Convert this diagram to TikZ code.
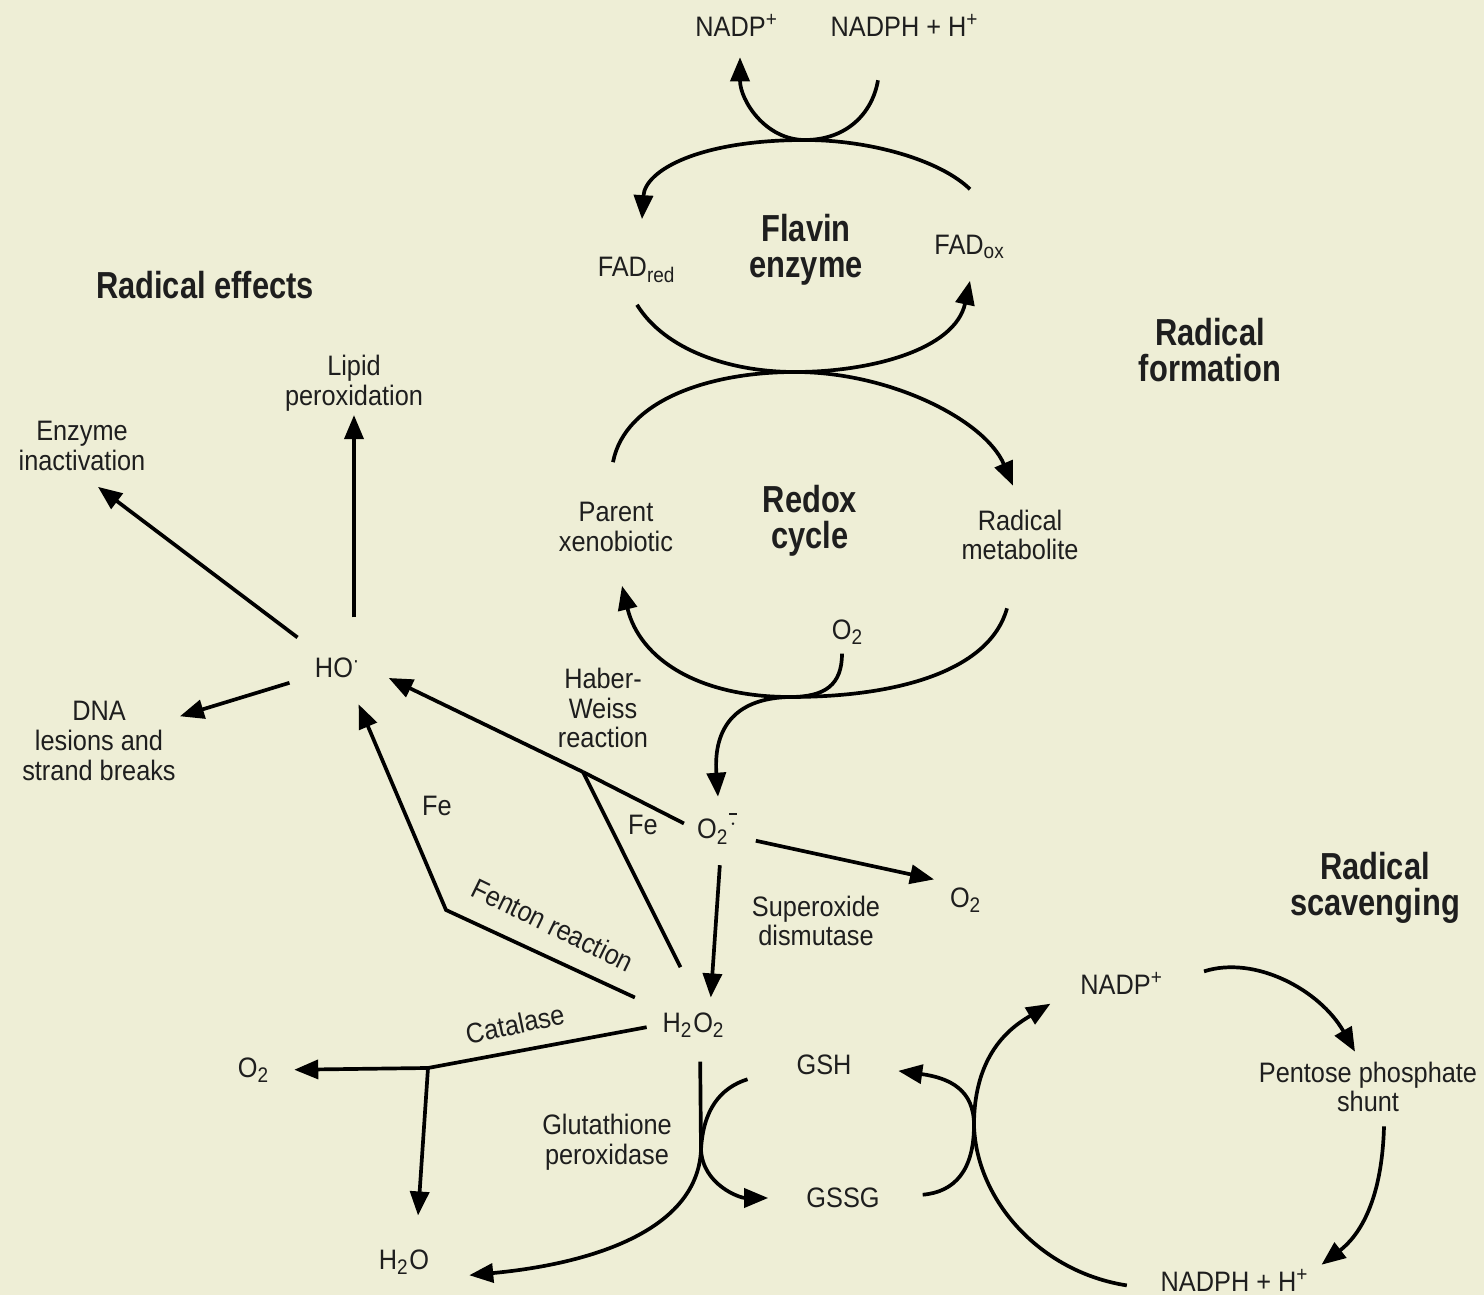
\documentclass[tikz,border=0pt]{standalone}
\usepackage{fontspec}
\setmainfont{Liberation Sans}[FakeStretch=0.9]
\newfontfamily\headfont{Liberation Sans}[FakeStretch=0.82]
\usetikzlibrary{arrows.meta, positioning, calc}

\definecolor{paper}{RGB}{238,238,214}
\definecolor{ink}{RGB}{30,30,30}

\begin{document}
\begin{tikzpicture}[x=0.01cm, y=-0.01cm,
    txt/.style={font=\fontsize{8}{8.4}\selectfont, align=center, text=ink, inner sep=1pt},
    head/.style={font=\headfont\bfseries\fontsize{10.7}{10.3}\selectfont, align=center, text=ink},
    arr/.style={-{Triangle[length=2.4mm, width=1.9mm]}, line width=1.05pt},
    rxn/.style={line width=1.05pt},
]
\useasboundingbox (0,0) rectangle (1484,1295);
\fill[paper] (0,0) rectangle (1484,1295);

% Section titles
\node[head] (TEF) at (205,285) {Radical effects};
\node[head] (TFE) at (806,250) {Flavin\\enzyme};
\node[head] (TRF) at (1210,350) {Radical\\formation};
\node[head] (TRC) at (810,521) {Redox\\cycle};
\node[head] (TRS) at (1375,888) {Radical\\scavenging};

% Flavin enzyme and redox cycle
\node[txt] (NPa) at (737,25) {NADP\textsuperscript{+}};
\node[txt] (NPHa) at (905,25) {NADPH + H\textsuperscript{+}};
\node[txt] (FADr) at (637,270) {FAD\textsubscript{red}};
\node[txt] (FADo) at (970,247) {FAD\textsubscript{ox}};
\node[txt] (PX) at (616,527) {Parent\\xenobiotic};
\node[txt] (RM) at (1020,535) {Radical\\metabolite};
\node[txt] (OXa) at (848,632) {O\textsubscript{2}};

% Radical effects
\node[txt, circle, minimum size=1cm, inner sep=0pt] (HO) at (338,668) {HO\textsuperscript{·}};
\node[txt] (LIP) at (354,383) {Lipid\\peroxidation};
\node[txt] (ENZ) at (82,446) {Enzyme\\inactivation};
\node[txt] (DNA) at (99,741) {DNA\\lesions and\\strand breaks};

% Superoxide and peroxide
\node[txt] (SO) at (718,828) {O\textsubscript{2}\textsuperscript{$\overline{\cdot}$}};
\node[txt] (OXb) at (966,900) {O\textsubscript{2}};
\node[txt] (HP) at (694,1025) {H\textsubscript{2}O\textsubscript{2}};
\node[txt] (OXc) at (254,1070) {O\textsubscript{2}};
\node[txt] (WAT) at (404,1262) {H\textsubscript{2}O};
\node[txt] (HWR) at (603,708) {Haber-\\Weiss\\reaction};
\node[txt] (FEa) at (437,806) {Fe};
\node[txt] (FEb) at (643,825) {Fe};
\node[txt] (SOD) at (816,921) {Superoxide\\dismutase};
\node[txt, rotate=-26] (FEN) at (553,925) {Fenton reaction};
\node[txt, rotate=12] (CAT) at (515,1024) {Catalase};
\node[txt] (GPX) at (607,1142) {Glutathione\\peroxidase};

% Radical scavenging
\node[txt] (GSH) at (824,1065) {GSH};
\node[txt] (GSSG) at (843,1198) {GSSG};
\node[txt] (NPb) at (1122,983) {NADP\textsuperscript{+}};
\node[txt] (PPS) at (1368,1087) {Pentose phosphate\\shunt};
\node[txt] (NPHb) at (1235,1280) {NADPH + H\textsuperscript{+}};

% Junctions
\coordinate (ftop) at (805,140);
\coordinate (fmid) at (795,372);
\coordinate (rbot) at (790,697);
\coordinate (hw) at (583,772);
\coordinate (fen) at (446,910);
\coordinate (cat) at (428,1068);
\coordinate (gx1) at (701,1150);
\coordinate (gx2) at (974,1125);

% Flavin enzyme arcs
\draw[arr] ([yshift=4.2mm]FADo.north) .. controls (940,160) and (870,140) .. (ftop)
    .. controls (700,140) and (645,170) .. ([xshift=0.5mm,yshift=3.4mm]FADr.north);
\draw[arr] ([xshift=-2.7mm,yshift=-4mm]NPHa.south) .. controls (872,115) and (845,140) .. (ftop)
    .. controls (765,140) and (740,100) .. ([xshift=0.3mm,yshift=-1.7mm]NPa.south);
\draw[arr] ([yshift=-1.8mm]FADr.south) .. controls (665,350) and (730,372) .. (fmid)
    .. controls (870,372) and (955,350) .. ([yshift=-1.8mm]FADo.south);

% Redox cycle arcs
\draw[arr] ([xshift=-0.3mm,yshift=3.6mm]PX.north) .. controls (625,400) and (710,372) .. (fmid)
    .. controls (890,372) and (985,420) .. ([xshift=-0.7mm,yshift=2mm]RM.north);
\draw[arr] ([xshift=-1.3mm,yshift=-4.4mm]RM.south) .. controls (990,670) and (900,697) .. (rbot)
    .. controls (700,697) and (640,660) .. ([xshift=0.6mm,yshift=-3mm]PX.south);
\draw[arr] ([xshift=-0.6mm,yshift=-0.5mm]OXa.south) .. controls (842,685) and (825,697) .. (rbot)
    .. controls (738,698) and (713,725) .. ([yshift=1.1mm]SO.north);

% Effects of the hydroxyl radical
\draw[arr] (HO.north -| LIP.south) -- (LIP.south);
\draw[arr, shorten >=2mm] (HO) -- (ENZ.south);
\draw[arr] (HO) -- (DNA);

% Haber-Weiss and Fenton reactions
\draw[rxn, shorten <=1mm] (SO.west) -- (hw);
\draw[arr] (hw) -- ([yshift=-1mm]HO.east);
\draw[rxn, shorten <=4.6mm] ([xshift=0.7mm]HP.north) -- (hw);
\draw[arr, shorten <=2.6mm] (HP.north west) -- (fen) -- ([yshift=1mm]HO.-66);

% Superoxide dismutase
\draw[arr, shorten <=1.7mm, shorten >=1.1mm] ([xshift=0.3mm]SO.south) -- ([xshift=1.6mm]HP.north);
\draw[arr, shorten <=1.3mm, shorten >=1.2mm] ([yshift=-1mm]SO.east) -- ([yshift=1.8mm]OXb.west);

% Catalase
\draw[rxn, shorten <=1.2mm] (HP.west) -- (cat);
\draw[arr, shorten >=2mm] (cat) -- (OXc.east);
\draw[arr, shorten >=3mm] (cat) -- ([xshift=1.2mm]WAT.north);

% Glutathione peroxidase
\draw[arr, shorten <=2mm, shorten >=3.6mm] ([xshift=0.6mm]HP.south) -- (gx1)
    .. controls (697,1235) and (580,1265) .. (WAT.south east);
\draw[arr, shorten <=4.7mm, shorten >=3.4mm] (GSH.west) .. controls (720,1088) and (703,1110) .. (gx1)
    .. controls (703,1185) and (740,1198) .. (GSSG.west);

% Glutathione regeneration
\draw[arr, shorten <=3.9mm, shorten >=4.3mm] (GSSG.east) .. controls (955,1192) and (974,1170) .. (gx2)
    .. controls (974,1090) and (950,1078) .. (GSH.east);
\draw[arr, shorten <=3mm, shorten >=3mm] ([yshift=-1mm]NPHb.west) .. controls (1040,1272) and (976,1200) .. (gx2)
    .. controls (974,1050) and (1015,1025) .. ([yshift=1mm]NPb.south west);
\draw[arr, shorten <=3.8mm] (NPb.east) .. controls (1255,955) and (1320,990) .. ([xshift=-1.3mm,yshift=0.6mm]PPS.north);
\draw[arr] ([xshift=1.6mm,yshift=-1mm]PPS.south) .. controls (1382,1200) and (1360,1235) .. ([xshift=0.8mm]NPHb.north east);
\end{tikzpicture}
\end{document}
